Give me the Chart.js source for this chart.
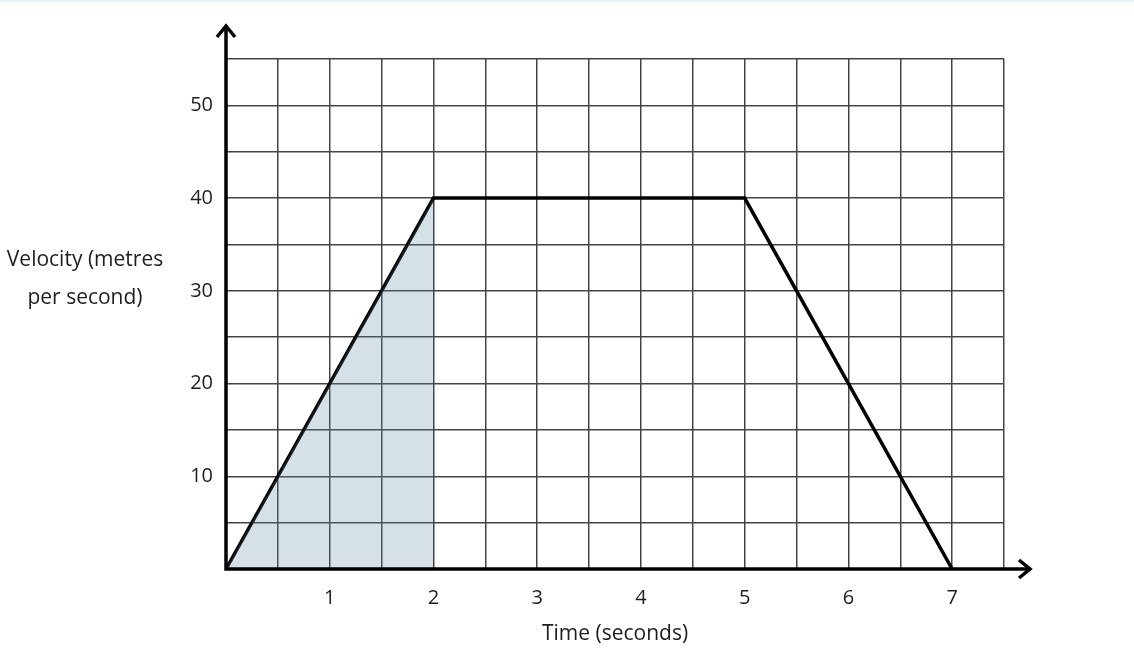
<!DOCTYPE html>
<html lang="en">
<head>
    <meta charset="UTF-8" />
    <title>Velocity-Time Graph</title>
    <script src="https://cdn.jsdelivr.net/npm/chart.js"></script>
    <style>
        html, body { margin: 0; padding: 0; background: #fff; }
        body { border-top: 2px solid #eaf1f8; }
        .wrap { position: relative; width: 1134px; height: 666px; }
    </style>
</head>
<body>
    <div class="wrap">
        <canvas id="velocityChart" width="1134" height="666"></canvas>
    </div>

    <script>
        // journey: speeds up, cruises, slows down
        const times = [0, 2, 5, 7];
        const velocities = [0, 40, 40, 0];

        // shaded part under the first segment
        const shadeTimes = [0, 2];
        const shadeVelocities = [0, 40];

        const xTickLabels = [1, 2, 3, 4, 5, 6, 7];
        const yTickLabels = [10, 20, 30, 40, 50];

        const FONT = "'Open Sans', sans-serif";
        const TEXT = '#1e1e1e';

        // axes with arrow heads + horizontal y title
        const axesPlugin = {
            id: 'axesArrows',
            afterDatasetsDraw(chart) {
                const ctx = chart.ctx;
                const xs = chart.scales.x;
                const ys = chart.scales.y;
                const x0 = xs.getPixelForValue(0);
                const y0 = ys.getPixelForValue(0);
                const right = chart.chartArea.right + 28;
                const top = chart.chartArea.top - 35;

                ctx.save();
                ctx.strokeStyle = '#000';
                ctx.lineWidth = 3.5;
                ctx.lineCap = 'butt';
                ctx.beginPath();
                ctx.moveTo(x0, y0 + 1.5);
                ctx.lineTo(x0, top + 2);
                ctx.moveTo(x0 - 1.5, y0);
                ctx.lineTo(right - 2, y0);
                ctx.stroke();

                ctx.lineJoin = 'miter';
                ctx.beginPath();
                ctx.moveTo(x0 - 9, top + 13);
                ctx.lineTo(x0, top + 2);
                ctx.lineTo(x0 + 9, top + 13);
                ctx.moveTo(right - 13, y0 - 9);
                ctx.lineTo(right - 2, y0);
                ctx.lineTo(right - 13, y0 + 9);
                ctx.stroke();

                ctx.fillStyle = TEXT;
                ctx.font = '21px ' + FONT;
                ctx.textAlign = 'center';
                ctx.textBaseline = 'middle';
                ctx.fillText('Velocity (metres', 85, 258);
                ctx.fillText('per second)', 85, 296);
                ctx.restore();
            }
        };

        new Chart(document.getElementById('velocityChart'), {
            type: 'scatter',
            data: {
                datasets: [{
                    data: shadeTimes.map((t, i) => ({ x: t, y: shadeVelocities[i] })),
                    showLine: true,
                    borderWidth: 0,
                    pointRadius: 0,
                    fill: 'origin',
                    backgroundColor: 'rgba(87, 131, 159, 0.25)'
                }, {
                    data: times.map((t, i) => ({ x: t, y: velocities[i] })),
                    showLine: true,
                    borderColor: '#000',
                    borderWidth: 3.5,
                    pointRadius: 0,
                    fill: false
                }]
            },
            options: {
                responsive: false,
                animation: false,
                layout: { padding: { top: 57, right: 130, left: 0, bottom: 0 } },
                plugins: {
                    legend: { display: false },
                    tooltip: { enabled: false }
                },
                scales: {
                    x: {
                        type: 'linear',
                        min: 0,
                        max: 7.5,
                        afterFit: s => { s.height = 99; },
                        border: { display: false },
                        grid: { color: '#444', lineWidth: 1.5, drawTicks: false },
                        ticks: {
                            stepSize: 0.5,
                            autoSkip: false,
                            maxRotation: 0,
                            padding: 17,
                            color: TEXT,
                            font: { family: FONT, size: 20 },
                            callback: v => xTickLabels.includes(v) ? String(v) : ''
                        },
                        title: {
                            display: true,
                            text: 'Time (seconds)',
                            color: TEXT,
                            font: { family: FONT, size: 21 },
                            padding: { top: 0, bottom: 21 }
                        }
                    },
                    y: {
                        min: 0,
                        max: 55,
                        afterFit: s => { s.width = 226; },
                        border: { display: false },
                        grid: { color: '#444', lineWidth: 1.5, drawTicks: false },
                        ticks: {
                            stepSize: 5,
                            autoSkip: false,
                            padding: 13,
                            color: TEXT,
                            font: { family: FONT, size: 20 },
                            callback: v => yTickLabels.includes(v) ? String(v) : ''
                        }
                    }
                }
            },
            plugins: [axesPlugin]
        });
    </script>
</body>
</html>
